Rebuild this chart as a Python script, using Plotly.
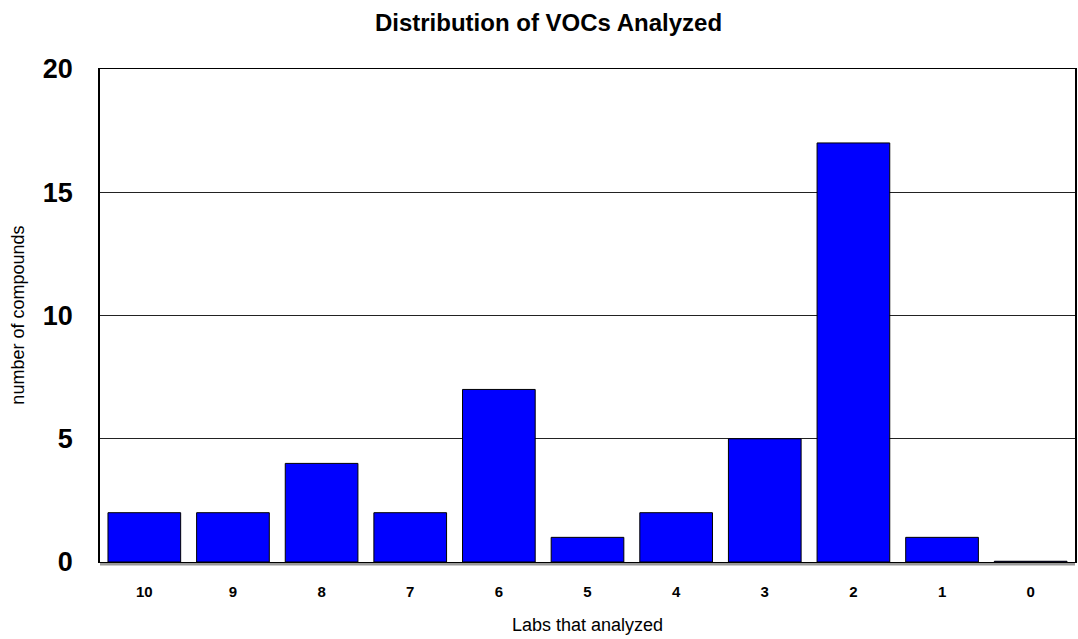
import plotly.graph_objects as go

categories = ["10", "9", "8", "7", "6", "5", "4", "3", "2", "1", "0"]
counts = [2, 2, 4, 2, 7, 1, 2, 5, 17, 1, 0.03]
y_ticks = [0, 5, 10, 15, 20]

FONT = "Liberation Sans, Arial, sans-serif"

fig = go.Figure()
fig.add_trace(go.Bar(
    x=categories, y=counts,
    marker=dict(color="#0000FF", line=dict(color="#000000", width=1)),
))

fig.update_layout(
    width=1078, height=639,
    margin=dict(l=100, r=1, t=69, b=77),
    paper_bgcolor="white", plot_bgcolor="white",
    bargap=0.18,
    showlegend=False,
    font=dict(family=FONT, color="black"),
    title=dict(text="<b>Distribution of VOCs Analyzed</b>", x=0.5088, xanchor="center",
               xref="container", yref="container",
               y=0.964, yanchor="middle", font=dict(size=24)),
    xaxis=dict(
        type="category", showline=True, linecolor="black", linewidth=1, mirror=True,
        ticks="", tickfont=dict(size=15, family=FONT, weight="bold"),
        ticklabelstandoff=16,
    ),
    yaxis=dict(
        range=[0, 20], tickvals=y_ticks, showline=True, linecolor="black", linewidth=1.5,
        mirror=True, showgrid=True, gridcolor="#222222", gridwidth=1, zeroline=False,
        ticks="", tickfont=dict(size=27, family=FONT, weight="bold"),
        ticklabelstandoff=20,
    ),
    annotations=[
        dict(text="Labs that analyzed", xref="paper", yref="paper", x=0.5, y=-0.1277,
             xanchor="center", yanchor="middle", showarrow=False, font=dict(size=18)),
        dict(text="number of compounds", xref="paper", yref="paper", x=-0.085, y=0.5,
             xanchor="center", yanchor="middle", textangle=-90, showarrow=False,
             font=dict(size=18)),
    ],
)
# gray floor under plot
fig.add_shape(type="rect", xref="paper", yref="paper", x0=0, x1=1, y0=-0.007, y1=0,
              fillcolor="#999999", line=dict(width=0), layer="below")

fig.write_html("out.html", config={"displayModeBar": False},
               post_script="document.body.style.margin='0px';")
